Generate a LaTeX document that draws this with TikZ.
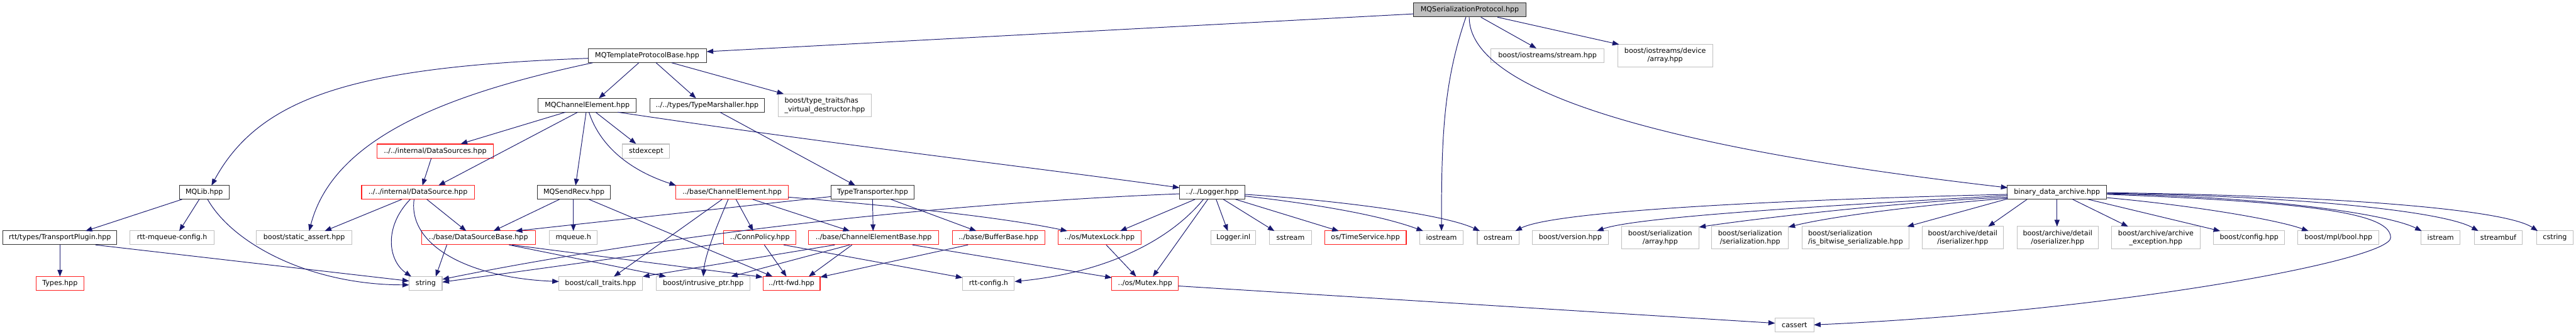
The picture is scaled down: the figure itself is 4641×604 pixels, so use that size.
\documentclass[tikz,border=0pt]{standalone}
\usepackage{fontspec}
\setmainfont{DejaVu Sans}
\usetikzlibrary{arrows.meta,calc}
\definecolor{mblue}{HTML}{191970}
\definecolor{gborder}{HTML}{BFBFBF}
\definecolor{rborder}{HTML}{FF2020}
\begin{document}
\begin{tikzpicture}[x=1pt,y=-1pt,
  base/.style={rectangle, draw, minimum height=25pt, inner sep=1pt, align=center,
    font=\fontsize{12.6}{15}\selectfont, line width=1.2pt},
  docnode/.style={base, draw=black!80},
  rootnode/.style={base, draw=black!85, fill=gborder},
  trunc/.style={base, draw=rborder},
  extnode/.style={base, draw=gborder},
  two/.style={minimum height=41pt},
  dep/.style={draw=mblue, line width=1.1pt, -{Triangle[length=12pt,width=9pt]}}]
\useasboundingbox (0,0) rectangle (4641,604);
\fill[white] (0,0) rectangle (4641,604);
% row 0
\node[rootnode, minimum width=202pt] (SP) at (2648,18) {MQSerializationProtocol.hpp};
% row 1
\node[docnode, minimum width=213pt] (TPB) at (1166,100) {MQTemplateProtocolBase.hpp};
\node[extnode, minimum width=204pt] (IOS) at (2788,100) {boost/iostreams/stream.hpp};
\node[extnode, two, minimum width=171pt] (IOA) at (3000,100) {boost/iostreams/device\\/array.hpp};
% row 2
\node[docnode, minimum width=177pt] (CE) at (1058,190) {MQChannelElement.hpp};
\node[docnode, minimum width=207pt] (TM) at (1274,190) {../../types/TypeMarshaller.hpp};
\node[extnode, two, minimum width=168pt, align=left] (HVD) at (1486,190) {boost/type\_traits/has\\\_virtual\_destructor.hpp};
% row 3
\node[trunc, minimum width=209pt] (DSs) at (784,272) {../../internal/DataSources.hpp};
\node[extnode, minimum width=85pt] (STDX) at (1164,272) {stdexcept};
% row 4
\node[docnode, minimum width=89pt] (MQL) at (368,346) {MQLib.hpp};
\node[trunc, minimum width=203pt] (DS) at (753,346) {../../internal/DataSource.hpp};
\node[docnode, minimum width=131pt] (SR) at (1034,346) {MQSendRecv.hpp};
\node[trunc, minimum width=203pt] (BCE) at (1319,346) {../base/ChannelElement.hpp};
\node[docnode, minimum width=149pt] (TT) at (1572,346) {TypeTransporter.hpp};
\node[docnode, minimum width=117pt] (LG) at (2184,346) {../../Logger.hpp};
\node[docnode, minimum width=179pt] (BDA) at (3706,346) {binary\_data\_archive.hpp};
% row 5
\node[docnode, minimum width=205pt] (TP) at (108,428) {rtt/types/TransportPlugin.hpp};
\node[extnode, minimum width=151pt] (RMC) at (310,428) {rtt-mqueue-config.h};
\node[extnode, minimum width=172pt] (SA) at (548,428) {boost/static\_assert.hpp};
\node[trunc, minimum width=205pt] (DSB) at (862,428) {../base/DataSourceBase.hpp};
\node[extnode, minimum width=86pt] (MQH) at (1033,428) {mqueue.h};
\node[trunc, minimum width=130pt] (CP) at (1369,428) {../ConnPolicy.hpp};
\node[trunc, minimum width=235pt] (CEB) at (1574,428) {../base/ChannelElementBase.hpp};
\node[trunc, minimum width=167pt] (BB) at (1799,428) {../base/BufferBase.hpp};
\node[trunc, minimum width=149pt] (ML) at (1981,428) {../os/MutexLock.hpp};
\node[extnode, minimum width=81pt] (LI) at (2222,428) {Logger.inl};
\node[extnode, minimum width=75pt] (SS) at (2325,428) {sstream};
\node[trunc, minimum width=147pt] (TS) at (2460,428) {os/TimeService.hpp};
\node[extnode, minimum width=78pt] (IOST) at (2597,428) {iostream};
\node[extnode, minimum width=75pt] (OST) at (2699,428) {ostream};
\node[extnode, minimum width=137pt] (BV) at (2829,428) {boost/version.hpp};
\node[extnode, two, minimum width=139pt] (BSA) at (2991,428) {boost/serialization\\/array.hpp};
\node[extnode, two, minimum width=138pt] (BSS) at (3153,428) {boost/serialization\\/serialization.hpp};
\node[extnode, two, minimum width=192pt, align=left] (BIB) at (3343,428) {boost/serialization\\/is\_bitwise\_serializable.hpp};
\node[extnode, two, minimum width=146pt] (BIS) at (3536,428) {boost/archive/detail\\/iserializer.hpp};
\node[extnode, two, minimum width=146pt] (BOS) at (3707,428) {boost/archive/detail\\/oserializer.hpp};
\node[extnode, two, minimum width=159pt] (BAE) at (3884,428) {boost/archive/archive\\\_exception.hpp};
\node[extnode, minimum width=128pt] (BC) at (4052,428) {boost/config.hpp};
\node[extnode, minimum width=146pt] (BMB) at (4213,428) {boost/mpl/bool.hpp};
\node[extnode, minimum width=70pt] (IST) at (4397,428) {istream};
\node[extnode, minimum width=87pt] (SB) at (4501,428) {streambuf};
\node[extnode, minimum width=66pt] (CS) at (4603,428) {cstring};
% row 6
\node[trunc, minimum width=86pt] (TY) at (108,510) {Types.hpp};
\node[extnode, minimum width=59pt] (STR) at (767,510) {string};
\node[extnode, minimum width=151pt] (CT) at (1082,510) {boost/call\_traits.hpp};
\node[extnode, minimum width=169pt] (IP) at (1267,510) {boost/intrusive\_ptr.hpp};
\node[trunc, minimum width=103pt] (RF) at (1426,510) {../rtt-fwd.hpp};
\node[extnode, minimum width=93pt] (RC) at (1781,510) {rtt-config.h};
\node[trunc, minimum width=120pt] (MX) at (2063,510) {../os/Mutex.hpp};
% row 7
\node[extnode, minimum width=70pt] (CA) at (3233,585) {cassert};

% edges from root
\draw[dep] ($(SP)+(-101,7)$) -- ($(TPB)+(107,-7)$);
\draw[dep] ($(SP)+(20,13)$) -- ($(IOS)+(-20,-13)$);
\draw[dep] ($(SP)+(50,13)$) -- ($(IOA)+(-83,-20)$);
\draw[dep] ($(SP)+(-7,13)$) .. controls +(-41,119) and +(0,-166) .. ($(IOST)+(0,-12)$);
\draw[dep] ($(SP)+(-1,13)$) .. controls +(0,169) and +(-417,-48) .. ($(BDA)+(-89,-8)$);
% TPB
\draw[dep] ($(TPB)+(-106,5)$) .. controls +(-410,15) and +(89,-164) .. ($(MQL)+(13,-12)$);
\draw[dep] ($(TPB)+(-98,13)$) .. controls +(-268,57) and +(43,-166) .. ($(SA)+(9,-12)$);
\draw[dep] ($(TPB)+(-15,13)$) -- ($(CE)+(21,-13)$);
\draw[dep] ($(TPB)+(16,13)$) -- ($(TM)+(-20,-13)$);
\draw[dep] ($(TPB)+(44,13)$) -- ($(HVD)+(-74,-21)$);
% CE
\draw[dep] ($(CE)+(-39,12)$) -- ($(DSs)+(46,-13)$);
\draw[dep] ($(CE)+(-17,12)$) -- ($(DS)+(37,-12)$);
\draw[dep] ($(CE)+(-2,12)$) -- ($(SR)+(3,-12)$);
\draw[dep] ($(CE)+(3,12)$) .. controls +(19,58) and +(-88,-29) .. ($(BCE)+(-101,-12)$);
\draw[dep] ($(CE)+(15,12)$) -- ($(STDX)+(-18,-13)$);
\draw[dep] ($(CE)+(55,12)$) .. controls +(387,58) and +(-275,-38) .. ($(LG)+(-59,-8)$);
% TM
\draw[dep] ($(TM)+(23,12)$) -- ($(TT)+(-31,-12)$);
% DataSources
\draw[dep] ($(DSs)+(-7,13)$) -- ($(DS)+(8,-12)$);
% MQLib
\draw[dep] ($(MQL)+(-40,13)$) -- ($(TP)+(46,-12)$);
\draw[dep] ($(MQL)+(-9,13)$) -- ($(RMC)+(13,-12)$);
\draw[dep] ($(MQL)+(6,13)$) .. controls +(46,81) and +(-177,0) .. ($(STR)+(-30,3)$);
% TransportPlugin
\draw[dep] ($(TP)+(0,13)$) -- ($(TY)+(0,-12)$);
\draw[dep] ($(TP)+(64,13)$) -- ($(STR)+(-30,-4)$);
% DataSource
\draw[dep] ($(DS)+(-29,13)$) -- ($(SA)+(37,-12)$);
\draw[dep] ($(DS)+(-14,13)$) .. controls +(-49,51) and +(-41,-28) .. ($(STR)+(-26,-12)$);
\draw[dep] ($(DS)+(-7,13)$) .. controls +(-11,81) and +(-167,-7) .. ($(CT)+(-75,-3)$);
\draw[dep] ($(DS)+(16,13)$) -- ($(DSB)+(-22,-12)$);
% MQSendRecv
\draw[dep] ($(SR)+(-26,13)$) -- ($(DSB)+(27,-12)$);
\draw[dep] ($(SR)+(-1,13)$) -- ($(MQH)+(0,-12)$);
\draw[dep] ($(SR)+(27,13)$) -- ($(RF)+(-34,-12)$);
% base/ChannelElement
\draw[dep] ($(BCE)+(-18,13)$) -- ($(CT)+(24,-12)$);
\draw[dep] ($(BCE)+(-7,13)$) .. controls +(-22,51) and +(3,-38) .. ($(IP)+(0,-12)$);
\draw[dep] ($(BCE)+(7,13)$) -- ($(CP)+(-12,-12)$);
\draw[dep] ($(BCE)+(37,13)$) -- ($(CEB)+(-43,-12)$);
\draw[dep] ($(BCE)+(101,9)$) .. controls +(180,15) and +(-123,-26) .. ($(ML)+(-58,-12)$);
% TypeTransporter
\draw[dep] ($(TT)+(-75,8)$) -- ($(DSB)+(67,-12)$);
\draw[dep] ($(TT)+(0,13)$) -- ($(CEB)+(-1,-12)$);
\draw[dep] ($(TT)+(33,13)$) -- ($(BB)+(-40,-12)$);
% DataSourceBase
\draw[dep] ($(DSB)+(-57,13)$) -- ($(STR)+(18,-12)$);
\draw[dep] ($(DSB)+(55,13)$) -- ($(IP)+(-67,-12)$);
\draw[dep] ($(DSB)+(60,13)$) -- ($(RF)+(-52,-11)$);
% ConnPolicy
\draw[dep] ($(CP)+(-65,10)$) -- ($(STR)+(30,-2)$);
\draw[dep] ($(CP)+(8,13)$) -- ($(RF)+(-9,-12)$);
\draw[dep] ($(CP)+(43,13)$) -- ($(RC)+(-47,-10)$);
% ChannelElementBase
\draw[dep] ($(CEB)+(-70,13)$) -- ($(CT)+(76,-12)$);
\draw[dep] ($(CEB)+(-43,13)$) -- ($(IP)+(50,-12)$);
\draw[dep] ($(CEB)+(-39,13)$) -- ($(RF)+(31,-12)$);
\draw[dep] ($(CEB)+(70,13)$) -- ($(MX)+(-60,-10)$);
% BufferBase
\draw[dep] ($(BB)+(-55,13)$) -- ($(RF)+(52,-11)$);
% MutexLock
\draw[dep] ($(ML)+(12,13)$) -- ($(MX)+(-16,-12)$);
% Logger
\draw[dep] ($(LG)+(-59,3)$) .. controls +(-525,21) and +(303,-62) .. ($(STR)+(30,-7)$);
\draw[dep] ($(LG)+(-31,13)$) -- ($(ML)+(37,-12)$);
\draw[dep] ($(LG)+(-16,13)$) .. controls +(-58,71) and +(171,-17) .. ($(RC)+(47,-3)$);
\draw[dep] ($(LG)+(-8,13)$) -- ($(MX)+(14,-12)$);
\draw[dep] ($(LG)+(7,13)$) -- ($(LI)+(-10,-12)$);
\draw[dep] ($(LG)+(20,13)$) -- ($(SS)+(-29,-12)$);
\draw[dep] ($(LG)+(42,13)$) -- ($(TS)+(-48,-12)$);
\draw[dep] ($(LG)+(58,7)$) .. controls +(108,12) and +(-84,-31) .. ($(IOST)+(-33,-12)$);
\draw[dep] ($(LG)+(58,4)$) .. controls +(158,10) and +(-66,-31) .. ($(OST)+(-33,-12)$);
% Mutex
\draw[dep] ($(MX)+(60,5)$) -- ($(CA)+(-35,-3)$);
% binary_data_archive
\draw[dep] ($(BDA)+(-89,4)$) .. controls +(-417,10) and +(70,-36) .. ($(OST)+(31,-12)$);
\draw[dep] ($(BDA)+(-89,6)$) .. controls +(-317,18) and +(73,-26) .. ($(BV)+(48,-12)$);
\draw[dep] ($(BDA)+(-89,9)$) .. controls +(-217,10) and +(86,-13) .. ($(BSA)+(70,-19)$);
\draw[dep] ($(BDA)+(-89,11)$) .. controls +(-167,13) and +(71,-18) .. ($(BSS)+(69,-19)$);
\draw[dep] ($(BDA)+(-89,12)$) -- ($(BIB)+(93,-20)$);
\draw[dep] ($(BDA)+(-54,13)$) -- ($(BIS)+(46,-20)$);
\draw[dep] ($(BDA)+(0,13)$) -- ($(BOS)+(-1,-20)$);
\draw[dep] ($(BDA)+(28,13)$) -- ($(BAE)+(-50,-20)$);
\draw[dep] ($(BDA)+(56,13)$) -- ($(BC)+(-52,-12)$);
\draw[dep] ($(BDA)+(90,10)$) .. controls +(154,14) and +(-59,-21) .. ($(BMB)+(-54,-12)$);
\draw[dep] ($(BDA)+(90,3)$) .. controls +(300,6) and +(-60,-30) .. ($(IST)+(-34,-12)$);
\draw[dep] ($(BDA)+(90,2)$) .. controls +(350,5) and +(-60,-35) .. ($(SB)+(-36,-12)$);
\draw[dep] ($(BDA)+(90,1)$) .. controls +(400,5) and +(-60,-40) .. ($(CS)+(-31,-12)$);
\coordinate (loopR) at (4307,428);
\draw[dep] ($(BDA)+(90,4)$) .. controls +(400,15) and +(0,-40) .. (loopR)
   .. controls +(0,40) and +(550,-25) .. ($(CA)+(35,0)$);
\end{tikzpicture}
\end{document}
